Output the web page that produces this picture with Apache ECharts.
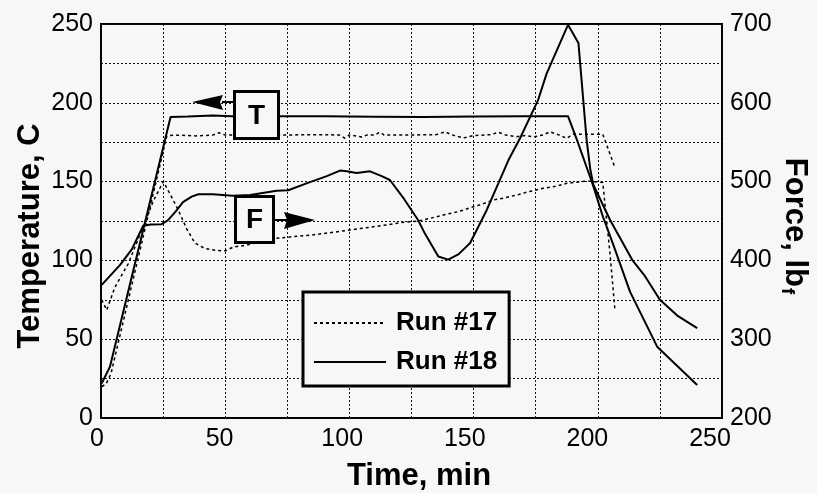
<!DOCTYPE html>
<html>
<head>
<meta charset="utf-8">
<script src="https://cdn.jsdelivr.net/npm/echarts@6/dist/echarts.min.js"></script>
<style>
html,body{margin:0;padding:0;background:#f7f7f7;}
#chart{width:817px;height:493px;}
</style>
</head>
<body>
<div id="chart"></div>
<script>
// ---- Data (time in min) ----
const xTicks = [0, 50, 100, 150, 200, 250];
const tempTicks = [0, 50, 100, 150, 200, 250];
const forceTicks = [200, 300, 400, 500, 600, 700];

// Run #18 temperature (C)
const run18Temp = [[0.3,22],[3.6,32.5],[28,191],[35,191.3],[45,192],[55,191.3],[70,191.5],[90,191.5],[110,191.2],[130,191],[150,191.3],[170,191.5],[188,191.5],[191.5,177],[198,148],[202,128],[206,111],[213,80],[224,45],[240,21]];
// Run #17 temperature (C)
const run17Temp = [[0.3,20],[2,21.5],[4,28],[26.5,179],[30,179.5],[38,179],[45,179.5],[47.5,181],[50,179.5],[60,179.8],[75,179.6],[90,179.8],[96,179.5],[98.2,177.5],[100,179.6],[104.9,178.3],[107,179.5],[110,179.5],[112.3,181.3],[114,179.5],[125,179.6],[135,179.8],[138.5,181.6],[141,179.8],[145.9,177.7],[150,179.2],[157,179.8],[160,181.3],[163,179.5],[167.3,178.5],[171,179.3],[174,178.3],[178,179.6],[180.8,181.6],[184,179.8],[187.5,177.5],[190,180],[202,180],[207,158.5]];
// Run #18 force (lbf)
const run18Force = [[0.3,369],[7.6,394],[12.4,414],[17,444],[20,445.5],[24.4,446],[27,451],[30,462],[33,474],[36.5,481],[39.2,484],[45,484],[53,482],[60,483],[70.7,488.5],[75.4,489],[83,498],[90.9,507],[96.2,514],[99,513],[102.9,511],[108.3,513],[113,507],[116.3,502],[122,478],[127.7,451],[130.4,434],[135.8,405],[139.8,401],[144,408],[148.6,422],[155.3,464],[159.3,493],[164,527],[168.7,555],[175.9,603],[179.4,637],[188,699],[192.2,676],[195.5,553],[197,515],[198.2,496],[205,451],[214,400],[219,380],[225,350],[232,330],[240,314]];
// Run #17 force (lbf)
const run17Force = [[0.3,350],[2.3,337],[5.6,366],[11,396],[17,443],[21,475],[25.1,500],[28,483],[31.1,464],[34.5,440],[37.8,422],[41.9,415],[45.9,413],[50,412],[53.3,417],[58,419],[65,424],[70.7,428],[77,430],[84.1,432],[92,435],[100.2,438.6],[108,442],[115,445],[121,448],[127.7,450],[132,453],[137.8,457.6],[144,462],[149.9,468],[154,472],[157.9,476.6],[162,479],[167.3,483],[172,487],[178,491.5],[183,494],[187.5,497.8],[191,499],[195.5,500.8],[202,499],[204.9,409],[206.9,337]];

const FONT = 'Liberation Sans, Arial, Helvetica, sans-serif';
const chart = echarts.init(document.getElementById('chart'));

const solid = {color:'#000', width:2, type:'solid'};
const dotted = {color:'#000', width:1.5, type:[3,3]};
const noMark = {color:'rgba(0,0,0,0)', opacity:0};

chart.setOption({
  backgroundColor:'#f7f7f7',
  animation:false,
  grid:[
    {left:101, top:24, width:621, height:394, show:true, borderColor:'#000', borderWidth:2, backgroundColor:'transparent'},
    {left:97, top:24, width:613, height:394, show:false}
  ],
  xAxis:[
    {type:'value', gridIndex:0, min:0, max:250, interval:25,
     axisLine:{show:false}, axisTick:{show:false}, axisLabel:{show:false},
     splitLine:{show:true, lineStyle:{color:'#111', width:1, type:[2,2]}}},
    {type:'value', gridIndex:1, min:xTicks[0], max:xTicks[xTicks.length-1], interval:50,
     axisLine:{show:false}, axisTick:{show:false}, splitLine:{show:false},
     axisLabel:{show:true, margin:9, color:'#000', fontSize:25, fontFamily:FONT}}
  ],
  yAxis:[
    {type:'value', gridIndex:0, min:tempTicks[0], max:tempTicks[tempTicks.length-1], interval:25,
     axisLine:{show:false}, axisTick:{show:false},
     axisLabel:{margin:8, color:'#000', fontSize:25, fontFamily:FONT,
       formatter:function(v){return tempTicks.indexOf(v) >= 0 ? String(v) : '';}},
     splitLine:{show:true, lineStyle:{color:'#111', width:1, type:[2,2]}}},
    {type:'value', gridIndex:0, position:'right', min:forceTicks[0], max:forceTicks[forceTicks.length-1], interval:100,
     axisLine:{show:false}, axisTick:{show:false}, splitLine:{show:false},
     axisLabel:{margin:8, color:'#000', fontSize:25, fontFamily:FONT}},
    {type:'value', gridIndex:1, show:false, min:0, max:1}
  ],
  legend:{
    orient:'vertical', left:303, top:292,
    data:['Run #17','Run #18'],
    itemWidth:72, itemHeight:14, itemGap:13,
    padding:[18,12,11,10],
    borderColor:'#000', borderWidth:3, backgroundColor:'#f7f7f7',
    selectedMode:false,
    itemStyle:{opacity:0},
    textStyle:{color:'#000', fontSize:26, fontWeight:'bold', fontFamily:FONT, padding:[0,0,0,5]}
  },
  series:[
    {name:'Run #17', type:'line', xAxisIndex:0, yAxisIndex:0, data:run17Temp, symbol:'none', lineStyle:dotted, itemStyle:noMark, z:3},
    {name:'Run #18', type:'line', xAxisIndex:0, yAxisIndex:0, data:run18Temp, symbol:'none', lineStyle:solid, itemStyle:noMark, z:3},
    {name:'Run #17', type:'line', xAxisIndex:0, yAxisIndex:1, data:run17Force, symbol:'none', lineStyle:dotted, itemStyle:noMark, z:3},
    {name:'Run #18', type:'line', xAxisIndex:0, yAxisIndex:1, data:run18Force, symbol:'none', lineStyle:solid, itemStyle:noMark, z:3}
  ],
  graphic:[
    // axis titles
    {type:'text', x:419, y:476, z:10,
     style:{text:'Time, min', font:'bold 31px '+FONT, fill:'#000', textAlign:'center', textVerticalAlign:'middle'}},
    {type:'text', x:30, y:236, rotation:Math.PI/2, z:10,
     style:{text:'Temperature, C', font:'bold 31px '+FONT, fill:'#000', textAlign:'center', textVerticalAlign:'middle'}},
    {type:'group', x:795, y:227, rotation:-Math.PI/2, z:10, children:[
      {type:'text', x:60, y:0, style:{text:'Force, lb', font:'bold 31px '+FONT, fill:'#000', textAlign:'right', textVerticalAlign:'middle'}},
      {type:'text', x:61, y:8, style:{text:'f', font:'bold 19px '+FONT, fill:'#000', textAlign:'left', textVerticalAlign:'middle'}}
    ]},
    // T annotation
    {type:'line', z:10, shape:{x1:222, y1:102, x2:233, y2:102}, style:{stroke:'#000', lineWidth:2}},
    {type:'polygon', z:10, shape:{points:[[192,102],[223,95],[220,102],[223,110]]}, style:{fill:'#000'}},
    {type:'rect', z:10, shape:{x:234.5, y:91.5, width:44, height:47}, style:{fill:'#f7f7f7', stroke:'#000', lineWidth:3}},
    {type:'text', z:11, x:256.5, y:116, style:{text:'T', font:'bold 28px '+FONT, fill:'#000', textAlign:'center', textVerticalAlign:'middle'}},
    // F annotation
    {type:'line', z:10, shape:{x1:275, y1:220, x2:287, y2:220}, style:{stroke:'#000', lineWidth:2}},
    {type:'polygon', z:10, shape:{points:[[315,220],[284,212],[287,220],[284,229]]}, style:{fill:'#000'}},
    {type:'rect', z:10, shape:{x:235.5, y:196.5, width:38, height:46}, style:{fill:'#f7f7f7', stroke:'#000', lineWidth:3}},
    {type:'text', z:11, x:254.5, y:220, style:{text:'F', font:'bold 28px '+FONT, fill:'#000', textAlign:'center', textVerticalAlign:'middle'}}
  ]
});
</script>
</body>
</html>
